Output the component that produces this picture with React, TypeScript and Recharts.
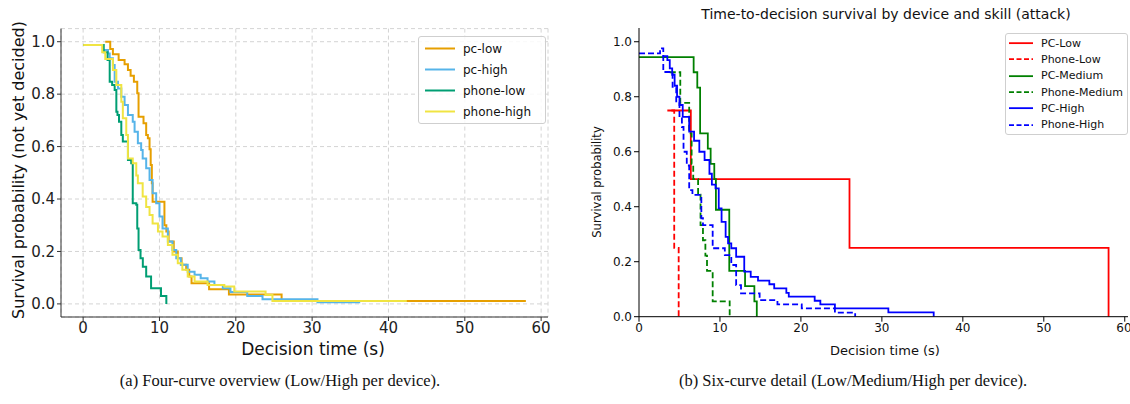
import React from "react";
import { LineChart, Line, XAxis, YAxis, CartesianGrid } from "recharts";

// ---- panel (a): four curves, times (s) and survival levels
const pcLowT = [2.9, 3.55, 3.9, 4.65, 5.43, 5.87, 6.22, 6.65, 7.09, 7.26, 7.91, 8.26, 8.48, 8.7, 8.85, 9.0, 9.1, 10.65, 10.9, 11.2, 11.87, 12.4, 12.9, 13.5, 13.9, 14.2, 16.5, 19.1, 26.0, 58.0];
const pcLowS = [1.0, 0.972, 0.952, 0.93, 0.914, 0.892, 0.87, 0.847, 0.803, 0.714, 0.689, 0.644, 0.632, 0.59, 0.53, 0.46, 0.39, 0.3, 0.276, 0.238, 0.2, 0.174, 0.149, 0.13, 0.104, 0.079, 0.056, 0.036, 0.011, 0.011];

const pcHighT = [0, 2.6, 3.26, 3.48, 3.9, 4.13, 4.56, 5.0, 5.43, 5.87, 6.5, 6.74, 7.17, 7.6, 7.8, 8.26, 8.7, 9.1, 9.57, 10.0, 10.4, 11.1, 11.7, 12.2, 12.8, 13.7, 14.6, 15.4, 16.3, 17.2, 18.3, 19.3, 21.5, 23.5, 30.7, 36.3];
const pcHighS = [0.987, 0.968, 0.955, 0.937, 0.911, 0.847, 0.822, 0.79, 0.759, 0.72, 0.695, 0.657, 0.613, 0.587, 0.555, 0.517, 0.473, 0.422, 0.384, 0.333, 0.288, 0.238, 0.206, 0.174, 0.149, 0.123, 0.111, 0.098, 0.085, 0.072, 0.06, 0.045, 0.03, 0.018, 0.006, 0.006];

const phoneLowT = [0, 2.7, 3.2, 3.48, 3.8, 4.13, 4.35, 4.5, 4.7, 5.0, 5.2, 5.87, 6.3, 6.5, 6.96, 7.09, 7.26, 7.52, 7.82, 8.26, 8.9, 10.2, 10.9];
const phoneLowS = [0.987, 0.96, 0.93, 0.847, 0.835, 0.816, 0.733, 0.72, 0.695, 0.644, 0.619, 0.549, 0.536, 0.384, 0.378, 0.288, 0.206, 0.174, 0.142, 0.104, 0.06, 0.03, 0.0];

const phoneHighT = [0, 2.5, 2.9, 3.9, 4.35, 5.0, 5.2, 5.65, 5.87, 6.5, 6.96, 7.17, 7.8, 8.26, 8.7, 9.1, 9.8, 10.4, 11.1, 11.7, 12.4, 13.0, 13.7, 14.6, 16.3, 18.5, 19.8, 23.9, 24.8, 42.4];
const phoneHighS = [0.987, 0.96, 0.934, 0.892, 0.835, 0.771, 0.708, 0.644, 0.555, 0.536, 0.49, 0.46, 0.41, 0.37, 0.339, 0.307, 0.276, 0.257, 0.225, 0.187, 0.155, 0.13, 0.104, 0.085, 0.072, 0.066, 0.047, 0.034, 0.011, 0.011];

// ---- panel (b): six curves
const bPcLowT = [3.5, 6.4, 26.0, 58.0];
const bPcLowS = [0.75, 0.5, 0.25, 0];
const bPhoneLowT = [4.0, 4.35, 4.9];
const bPhoneLowS = [0.75, 0.25, 0];
const bPcMedT = [0, 6.75, 7.2, 7.55, 8.5, 8.85, 9.3, 9.5, 11.15, 13.1, 14.25, 14.55];
const bPcMedS = [0.944, 0.889, 0.833, 0.667, 0.611, 0.556, 0.5, 0.389, 0.167, 0.111, 0.056, 0];
const bPhoneMedT = [3.8, 5.1, 6.2, 6.5, 6.7, 7.3, 7.6, 7.9, 8.2, 8.4, 9.1, 11.2];
const bPhoneMedS = [0.889, 0.778, 0.667, 0.556, 0.5, 0.444, 0.333, 0.278, 0.222, 0.167, 0.056, 0];
const bPcHighT = [2.9, 3.5, 3.8, 4.1, 4.4, 4.7, 5.0, 5.4, 6.2, 6.8, 7.45, 8.1, 8.7, 9.0, 9.45, 9.85, 10.2, 10.7, 11.0, 11.4, 12.0, 13.0, 13.8, 14.7, 16.1, 16.7, 18.2, 18.5, 21.7, 22.4, 24.2, 30.8, 36.4];
const bPcHighS = [0.948, 0.933, 0.903, 0.88, 0.84, 0.8, 0.77, 0.727, 0.673, 0.64, 0.6, 0.57, 0.52, 0.48, 0.467, 0.394, 0.345, 0.29, 0.267, 0.249, 0.218, 0.164, 0.145, 0.131, 0.118, 0.103, 0.087, 0.073, 0.058, 0.045, 0.03, 0.016, 0];
const bPhoneHighT = [0, 2.6, 3.0, 4.15, 4.6, 5.0, 5.3, 5.5, 5.9, 6.2, 6.6, 7.7, 7.9, 9.1, 10.6, 11.4, 12.0, 12.6, 14.9, 17.1, 20.1, 24.2, 26.7];
const bPhoneHighS = [0.958, 0.976, 0.89, 0.836, 0.78, 0.73, 0.69, 0.6, 0.55, 0.46, 0.443, 0.358, 0.333, 0.249, 0.224, 0.188, 0.115, 0.085, 0.06, 0.045, 0.03, 0.015, 0];

const yTicks = [0, 0.2, 0.4, 0.6, 0.8, 1.0];
const xTicks = [0, 10, 20, 30, 40, 50, 60];

const mk = (t: number[], s: number[]) => t.map((x, i) => ({ t: x, s: s[i] }));

const seriesA = [
  { name: "pc-low", data: mk(pcLowT, pcLowS), color: "#E69F00" },
  { name: "pc-high", data: mk(pcHighT, pcHighS), color: "#56B4E9" },
  { name: "phone-low", data: mk(phoneLowT, phoneLowS), color: "#009E73" },
  { name: "phone-high", data: mk(phoneHighT, phoneHighS), color: "#F0E442" },
];

const seriesB = [
  { name: "PC-Low", data: mk(bPcLowT, bPcLowS), color: "#ff0000", dash: false },
  { name: "Phone-Low", data: mk(bPhoneLowT, bPhoneLowS), color: "#ff0000", dash: true },
  { name: "PC-Medium", data: mk(bPcMedT, bPcMedS), color: "#008000", dash: false },
  { name: "Phone-Medium", data: mk(bPhoneMedT, bPhoneMedS), color: "#008000", dash: true },
  { name: "PC-High", data: mk(bPcHighT, bPcHighS), color: "#0000ff", dash: false },
  { name: "Phone-High", data: mk(bPhoneHighT, bPhoneHighS), color: "#0000ff", dash: true },
];

const SANS = "'DejaVu Sans', sans-serif";
const SERIF = "'Liberation Serif', 'Times New Roman', serif";

const abs = (x: number, y: number, extra: React.CSSProperties = {}): React.CSSProperties => ({
  position: "absolute",
  left: x,
  top: y,
  transform: "translate(-50%, -50%)",
  whiteSpace: "nowrap",
  fontFamily: SANS,
  color: "#111",
  ...extra,
});

function LegendBox({ items, left, top, width, rowH, pad, sample, gap, fontSize, sw, dash }: any) {
  return (
    <div
      style={{
        position: "absolute",
        left,
        top,
        width,
        height: items.length * rowH + 2,
        border: "1px solid #cfcfcf",
        borderRadius: 3,
        background: "rgba(255,255,255,0.85)",
        fontFamily: SANS,
        fontSize,
        color: "#111",
      }}
    >
      {items.map((it: any, i: number) => (
        <div
          key={it.name}
          style={{
            position: "absolute",
            left: 0,
            top: i * rowH + 1,
            width: "100%",
            height: rowH,
            display: "flex",
            alignItems: "center",
            justifyContent: "flex-start",
            whiteSpace: "nowrap",
          }}
        >
          <svg width={sample + pad * 2} height={rowH} style={{ display: "block", flex: "none" }}>
            <line x1={pad} x2={pad + sample} y1={rowH / 2} y2={rowH / 2} stroke={it.color} strokeWidth={sw} strokeDasharray={it.dash ? dash : undefined} />
          </svg>
          <span style={{ marginLeft: gap }}>{it.name}</span>
        </div>
      ))}
    </div>
  );
}

export default function App() {
  return (
    <div style={{ position: "absolute", left: 0, top: 0, width: 1130, height: 404, background: "#fff", overflow: "hidden" }}>
      {/* panel (a) */}
      <div style={{ position: "absolute", left: 0, top: 0 }}>
        <LineChart width={560} height={370} margin={{ top: 28.6, right: 12, bottom: 0, left: 0 }}>
          <CartesianGrid strokeDasharray="4 3" stroke="#d4d4d4" />
          <XAxis
            type="number"
            dataKey="t"
            domain={[-2.9, 60.9]}
            ticks={xTicks}
            allowDataOverflow
            height={53}
            tickSize={4}
            tickMargin={1}
            stroke="#333"
            tick={{ fontSize: 15, fill: "#222", fontFamily: SANS }}
          />
          <YAxis
            type="number"
            domain={[-0.05, 1.05]}
            ticks={yTicks}
            allowDataOverflow
            width={61}
            tickSize={4}
            tickMargin={2}
            stroke="#333"
            tickFormatter={(v: number) => v.toFixed(1)}
            tick={{ fontSize: 15, fill: "#222", fontFamily: SANS }}
          />
          {seriesA.map((s) => (
            <Line
              key={s.name}
              data={s.data}
              dataKey="s"
              name={s.name}
              type="stepAfter"
              stroke={s.color}
              strokeWidth={2}
              dot={false}
              isAnimationActive={false}
            />
          ))}
        </LineChart>
      </div>
      <LegendBox items={seriesA} left={418} top={36} width={126} rowH={21} pad={6} sample={30} gap={2} fontSize={12} sw={2} />
      <div style={abs(313, 349, { fontSize: 17 })}>Decision time (s)</div>
      <div style={abs(18, 170, { fontSize: 16, transform: "translate(-50%, -50%) rotate(-90deg)" })}>
        Survival probability (not yet decided)
      </div>

      {/* panel (b) */}
      <div style={{ position: "absolute", left: 580, top: 0 }}>
        <LineChart width={550} height={345} margin={{ top: 28, right: 2, bottom: 0, left: 0 }}>
          <XAxis
            xAxisId="b"
            type="number"
            dataKey="t"
            domain={[0, 60.4]}
            ticks={xTicks}
            allowDataOverflow
            height={28.3}
            tickSize={5}
            tickMargin={2}
            stroke="#000"
            tick={{ fontSize: 12, fill: "#111", fontFamily: SANS }}
          />
          <XAxis xAxisId="top" orientation="top" type="number" domain={[0, 60.4]} height={0} tick={false} tickLine={false} stroke="#000" />
          <YAxis
            yAxisId="l"
            type="number"
            domain={[0, 1.05]}
            ticks={yTicks}
            allowDataOverflow
            width={59}
            tickSize={5}
            tickMargin={2}
            stroke="#000"
            tickFormatter={(v: number) => v.toFixed(1)}
            tick={{ fontSize: 12, fill: "#111", fontFamily: SANS }}
          />
          <YAxis yAxisId="r" orientation="right" type="number" domain={[0, 1.05]} width={0} tick={false} tickLine={false} stroke="#000" />
          {seriesB.map((s) => (
            <Line
              key={s.name}
              xAxisId="b"
              yAxisId="l"
              data={s.data}
              dataKey="s"
              name={s.name}
              type="stepAfter"
              stroke={s.color}
              strokeWidth={1.8}
              strokeDasharray={s.dash ? "6 3" : undefined}
              dot={false}
              isAnimationActive={false}
            />
          ))}
        </LineChart>
      </div>
      <LegendBox items={seriesB} left={1005} top={33} width={121} rowH={16.3} pad={3} sample={24} gap={5} fontSize={11} sw={1.8} dash="5 2.5" />
      <div style={abs(886, 14, { fontSize: 14 })}>Time-to-decision survival by device and skill (attack)</div>
      <div style={abs(885, 350, { fontSize: 13 })}>Decision time (s)</div>
      <div style={abs(597, 182, { fontSize: 11.5, transform: "translate(-50%, -50%) rotate(-90deg)" })}>Survival probability</div>

      {/* captions */}
      <div style={abs(280, 381, { fontSize: 16.5, fontFamily: SERIF })}>(a) Four-curve overview (Low/High per device).</div>
      <div style={abs(853, 381, { fontSize: 16.5, fontFamily: SERIF })}>(b) Six-curve detail (Low/Medium/High per device).</div>
    </div>
  );
}
